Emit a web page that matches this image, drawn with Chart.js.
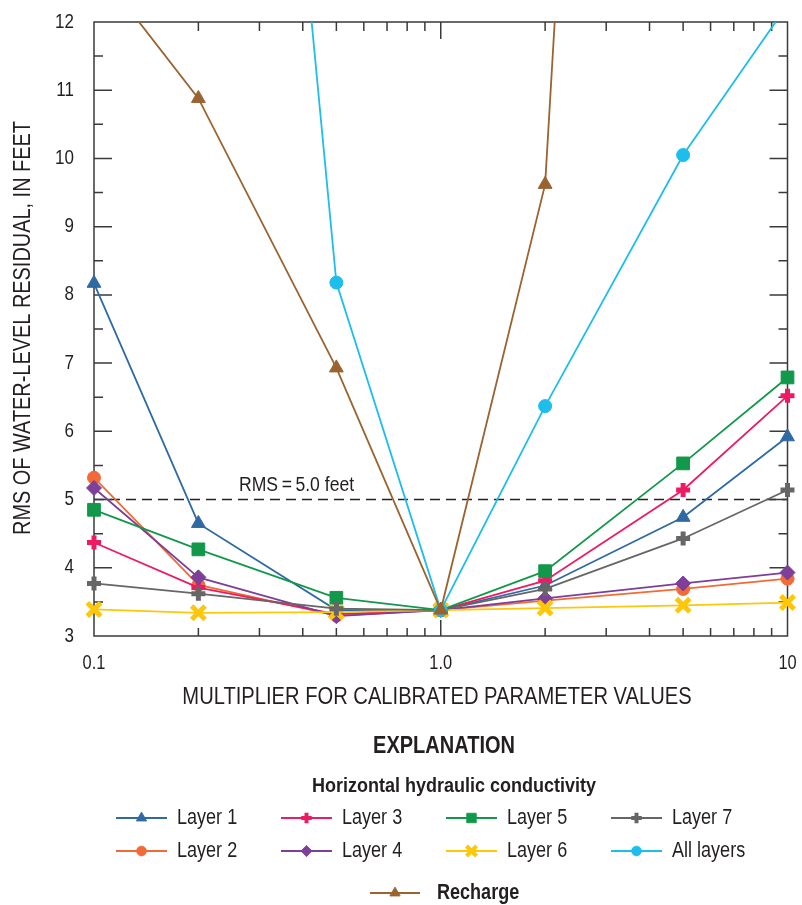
<!DOCTYPE html>
<html>
<head>
<meta charset="utf-8">
<script src="https://cdn.jsdelivr.net/npm/chart.js@4.4.1/dist/chart.umd.min.js"></script>
<style>
  html, body { margin: 0; padding: 0; background: #fff; }
  #wrap { width: 802px; height: 905px; }
</style>
</head>
<body>
<div id="wrap"><canvas id="myChart" width="802" height="905"></canvas></div>
<script>
/* Data */
const multipliers = [0.1, 0.2, 0.5, 1.0, 2, 5, 10];
const layer1 = [8.17, 4.65, 3.38, 3.38, 3.74, 4.74, 5.92];
const layer2 = [5.32, 3.75, 3.30, 3.38, 3.52, 3.69, 3.84];
const layer3 = [4.37, 3.71, 3.32, 3.38, 3.81, 5.14, 6.52];
const layer4 = [5.17, 3.86, 3.29, 3.38, 3.55, 3.77, 3.93];
const layer5 = [4.85, 4.27, 3.56, 3.38, 3.95, 5.53, 6.79];
const layer6 = [3.39, 3.34, 3.35, 3.38, 3.41, 3.45, 3.49];
const layer7 = [3.77, 3.62, 3.40, 3.38, 3.69, 4.43, 5.14];
const allLayers = [null, 29.5, 8.18, 3.38, 6.37, 10.05, 12.25];
const recharge = [12.85, 10.88, 6.93, 3.38, 9.62, 44, null];

const xTickValues = [0.1, 1, 10];
const xTickLabels = ['0.1', '1.0', '10'];
const yTickValues = [3, 4, 5, 6, 7, 8, 9, 10, 11, 12];
const rmsLimit = 5.0;

const FONT = "'Liberation Sans', Arial, sans-serif";
const TEXT = '#231f20';

function series (label, values, color, style, radius, bw) {
  return {
    label: label,
    data: multipliers.map(function (m, i) { return { x: m, y: values[i] }; }),
    borderColor: color,
    backgroundColor: color,
    borderWidth: 1.8,
    pointStyle: style,
    pointRadius: radius,
    pointBorderWidth: bw,
    pointBackgroundColor: color,
    pointBorderColor: color,
    tension: 0,
    clip: { left: 14, right: 14, top: 0, bottom: 14 }
  };
}

const datasets = [
  series('Layer 1', layer1, '#2f6aa3', 'triangle', 8, 1),
  series('Layer 2', layer2, '#f26a36', 'circle', 6.5, 1),
  series('Layer 3', layer3, '#ec1b64', 'cross', 7, 5),
  series('Layer 4', layer4, '#7e3f98', 'rectRot', 7.5, 1),
  series('Layer 5', layer5, '#12984a', 'rect', 9, 1),
  series('Layer 6', layer6, '#fdc70c', 'crossRot', 9.5, 5),
  series('Layer 7', layer7, '#666666', 'cross', 7, 5),
  series('All layers', allLayers, '#1dbdec', 'circle', 6.5, 1),
  series('Recharge', recharge, '#9a6330', 'triangle', 8, 1)
];
datasets.forEach(function (d, i) { d.order = datasets.length - i; });

/* condensed text: the original uses a narrow face */
function drawText (ctx, text, x, y, size, opts) {
  opts = opts || {};
  const sx = opts.sx || 0.83;
  ctx.save();
  ctx.font = (opts.bold ? 'bold ' : '') + size + 'px ' + FONT;
  ctx.fillStyle = TEXT;
  ctx.textBaseline = 'middle';
  ctx.textAlign = opts.align || 'left';
  ctx.translate(x, y);
  if (opts.rotate) ctx.rotate(opts.rotate);
  ctx.scale(sx, 1);
  ctx.fillText(text, 0, 0);
  ctx.restore();
}

function drawMarker (ctx, ds, x, y, scale) {
  ctx.save();
  ctx.fillStyle = ds.pointBackgroundColor;
  ctx.strokeStyle = ds.pointBorderColor;
  ctx.lineWidth = ds.pointBorderWidth * (scale < 1 ? 0.8 : 1);
  Chart.helpers.drawPoint(ctx, {
    pointStyle: ds.pointStyle,
    radius: ds.pointRadius * scale,
    rotation: 0,
    borderWidth: ctx.lineWidth
  }, x, y);
  ctx.restore();
}

/* Frame, ticks, titles, reference line */
const decorations = {
  id: 'decorations',
  beforeDatasetsDraw: function (chart) {
    const ctx = chart.ctx;
    const a = chart.chartArea;
    const xs = chart.scales.x;
    const ys = chart.scales.y;
    ctx.save();

    // RMS = 5.0 feet line
    const y5 = ys.getPixelForValue(rmsLimit);
    ctx.strokeStyle = '#222';
    ctx.lineWidth = 1.5;
    ctx.setLineDash([10, 6]);
    ctx.beginPath();
    ctx.moveTo(a.left, y5);
    ctx.lineTo(a.right, y5);
    ctx.stroke();
    ctx.setLineDash([]);
    drawText(ctx, 'RMS\u2009=\u20095.0 feet', 239, y5 - 14, 20, { sx: 0.88 });

    // frame
    ctx.strokeStyle = '#3a3a3a';
    ctx.lineWidth = 1.5;
    ctx.strokeRect(a.left, a.top, a.right - a.left, a.bottom - a.top);

    // x ticks (inward, top and bottom)
    ctx.beginPath();
    for (let d = 0.1; d < 10; d *= 10) {
      for (let k = 1; k <= 9; k++) {
        if (k === 1 && d < 0.5) continue;
        const px = xs.getPixelForValue(d * k);
        ctx.moveTo(px, a.top);
        ctx.lineTo(px, a.top + (k === 1 ? 17 : 9));
        ctx.moveTo(px, a.bottom);
        ctx.lineTo(px, a.bottom - (k === 1 ? 16 : 8));
      }
    }
    // y ticks (inward, left and right)
    for (let v = 3.5; v < 12; v += 0.5) {
      const py = ys.getPixelForValue(v);
      const len = (v % 1 === 0) ? 18 : 9;
      ctx.moveTo(a.left, py);
      ctx.lineTo(a.left + len, py);
      ctx.moveTo(a.right, py);
      ctx.lineTo(a.right - len, py);
    }
    ctx.stroke();

    // tick labels
    xs.ticks.forEach(function (t, i) {
      drawText(ctx, xTickLabels[i], xs.getPixelForValue(t.value), a.bottom + 27, 20, { align: 'center', sx: 0.82 });
    });
    ys.ticks.forEach(function (t) {
      drawText(ctx, String(t.value), a.left - 20, ys.getPixelForValue(t.value), 20, { align: 'right', sx: 0.85 });
    });

    // axis titles
    drawText(ctx, 'MULTIPLIER FOR CALIBRATED PARAMETER VALUES', 437, 697, 24, { align: 'center', sx: 0.84 });
    drawText(ctx, 'RMS OF WATER-LEVEL RESIDUAL, IN FEET', 23, 328, 24, { align: 'center', sx: 0.83, rotate: -Math.PI / 2 });

    ctx.restore();
  },
  afterDraw: function (chart) {
    const ctx = chart.ctx;
    const ds = chart.data.datasets;
    ctx.save();
    drawText(ctx, 'EXPLANATION', 444, 747, 23, { bold: true, align: 'center', sx: 0.87 });
    drawText(ctx, 'Horizontal hydraulic conductivity', 454, 786, 20, { bold: true, align: 'center', sx: 0.9 });

    const colX = [116, 281, 446, 611];
    const rowY = [818, 851];
    function entry (d, x, y, len, gap, bold) {
      ctx.strokeStyle = d.borderColor;
      ctx.lineWidth = 2;
      ctx.beginPath();
      ctx.moveTo(x, y);
      ctx.lineTo(x + len, y);
      ctx.stroke();
      drawMarker(ctx, d, x + len / 2, y, 0.75);
      drawText(ctx, d.label, x + len + gap, y, 22, { bold: bold, sx: 0.82 });
    }
    for (let i = 0; i < 8; i++) {
      entry(ds[i], colX[Math.floor(i / 2)], rowY[i % 2], 51, 10, false);
    }
    entry(ds[8], 370, 893, 50, 17, true);
    ctx.restore();
  }
};

const ctx = document.getElementById('myChart').getContext('2d');

const chart = new Chart(ctx, {
  type: 'line',
  data: { datasets: datasets },
  options: {
    responsive: false,
    animation: false,
    layout: { padding: { left: 0, right: 11, top: 22, bottom: 0 } },
    plugins: {
      legend: { display: false },
      tooltip: { enabled: false }
    },
    scales: {
      x: {
        type: 'logarithmic',
        min: 0.1,
        max: 10,
        afterBuildTicks: function (s) { s.ticks = xTickValues.map(function (v) { return { value: v }; }); },
        afterFit: function (s) { s.height = 269; },
        grid: { display: false, drawTicks: false },
        border: { display: false },
        ticks: { display: false, autoSkip: false }
      },
      y: {
        min: 3,
        max: 12,
        afterBuildTicks: function (s) { s.ticks = yTickValues.map(function (v) { return { value: v }; }); },
        afterFit: function (s) { s.width = 94; },
        grid: { display: false, drawTicks: false },
        border: { display: false },
        ticks: { display: false, autoSkip: false }
      }
    }
  },
  plugins: [decorations]
});
</script>
</body>
</html>
